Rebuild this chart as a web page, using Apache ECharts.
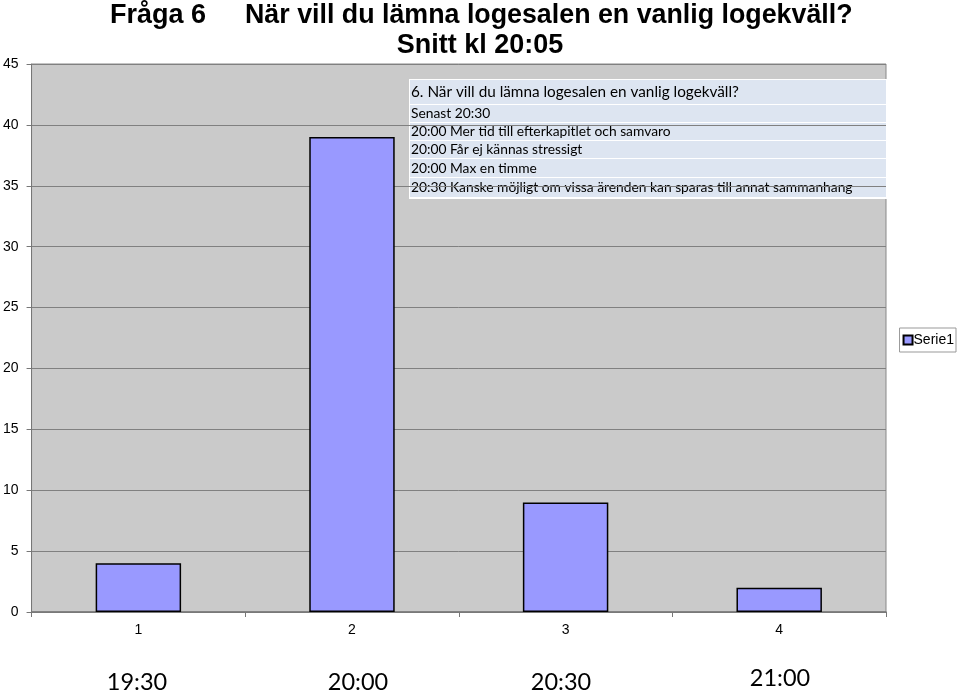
<!DOCTYPE html>
<html><head><meta charset="utf-8">
<script src="https://cdn.jsdelivr.net/npm/echarts@6/dist/echarts.min.js"></script>
<style>html,body{margin:0;padding:0;background:#fff}#c{width:959px;height:693px}</style>
</head><body><div id="c"></div>
<script>
const categories = ['1', '2', '3', '4'];
const values = [4, 39, 9, 2];
const timeLabels = ['19:30', '20:00', '20:30', '21:00'];
const seriesName = 'Serie1';
const titleLeft = 'Fråga 6';
const titleMain = 'När vill du lämna logesalen en vanlig logekväll?';
const subTitle = 'Snitt kl 20:05';
const noteLines = [
  '6. När vill du lämna logesalen en vanlig logekväll?',
  'Senast 20:30',
  '20:00 Mer tid till efterkapitlet och samvaro',
  '20:00 Får ej kännas stressigt',
  '20:00 Max en timme',
  '20:30 Kanske möjligt om vissa ärenden kan sparas till annat sammanhang'
];

const chart = echarts.init(document.getElementById('c'), null, {renderer: 'canvas'});

const rowTops = [80, 105, 123, 141, 159, 178];
const rowBottoms = [104, 122, 140, 158, 177, 197];
const noteEls = [{type: 'rect', shape: {x: 409, y: 79, width: 478, height: 120}, style: {fill: '#ffffff'}}];
noteLines.forEach((t, i) => {
  noteEls.push({type: 'rect', shape: {x: 410, y: rowTops[i], width: 476, height: rowBottoms[i] - rowTops[i]}, style: {fill: '#dde5f1'}});
  noteEls.push({type: 'text', x: 411, y: (rowTops[i] + rowBottoms[i]) / 2 + 0.5,
    style: {text: t, font: (i === 0 ? '15.3px' : '13.8px') + ' Lato, "Open Sans", sans-serif', fill: '#000', textVerticalAlign: 'middle', textAlign: 'left'}});
});

const timeX = [137, 358, 561, 780];
const timeY = [682, 682, 682, 678];
const timeEls = timeLabels.map((t, i) => ({type: 'text', x: timeX[i], y: timeY[i],
  style: {text: t, font: '23.5px Lato, "Open Sans", sans-serif', fill: '#000', textAlign: 'center', textVerticalAlign: 'middle'}}));

chart.setOption({
  animation: false,
  backgroundColor: '#ffffff',
  grid: {left: 30, right: 73, top: 64, bottom: 81, show: true, backgroundColor: '#cacaca', borderColor: '#888', borderWidth: 1},
  legend: {
    data: [seriesName], right: 3, top: 328, orient: 'vertical',
    backgroundColor: '#fff', borderColor: '#999', borderWidth: 1, padding: [5, 2, 5, 3],
    itemWidth: 9, itemHeight: 9, itemGap: 0,
    icon: 'rect',
    textStyle: {fontFamily: '"Liberation Sans", Arial, sans-serif', fontSize: 14, color: '#000', padding: [0, 0, 0, -4]}
  },
  xAxis: {
    type: 'category', data: categories, boundaryGap: true,
    axisLine: {lineStyle: {color: '#777', width: 1.5}},
    axisTick: {show: true, alignWithLabel: false, length: 5, lineStyle: {color: '#777'}},
    axisLabel: {fontFamily: '"Liberation Sans", Arial, sans-serif', fontSize: 14, color: '#000', margin: 11}
  },
  yAxis: {
    type: 'value', min: 0, max: 45, interval: 5,
    axisLine: {show: true, lineStyle: {color: '#777'}},
    axisTick: {show: true, length: 5, lineStyle: {color: '#777'}},
    splitLine: {lineStyle: {color: '#808080', width: 1}},
    axisLabel: {fontFamily: '"Liberation Sans", Arial, sans-serif', fontSize: 14, color: '#000', margin: 13}
  },
  series: [{
    name: seriesName, type: 'bar', data: values, barWidth: '40%',
    itemStyle: {color: '#9999ff', borderColor: '#000', borderWidth: 1.5}
  }],
  graphic: [
    {type: 'text', x: 110, y: 16, style: {text: titleLeft, font: 'bold 27px "Liberation Sans", Arial, sans-serif', fill: '#000', textVerticalAlign: 'middle'}},
    {type: 'text', x: 245, y: 16, style: {text: titleMain, font: 'bold 26.8px "Liberation Sans", Arial, sans-serif', fill: '#000', textVerticalAlign: 'middle'}},
    {type: 'text', x: 480, y: 46, style: {text: subTitle, font: 'bold 27px "Liberation Sans", Arial, sans-serif', fill: '#000', textAlign: 'center', textVerticalAlign: 'middle'}},
    ...noteEls,
    ...timeEls
  ]
});
</script></body></html>
